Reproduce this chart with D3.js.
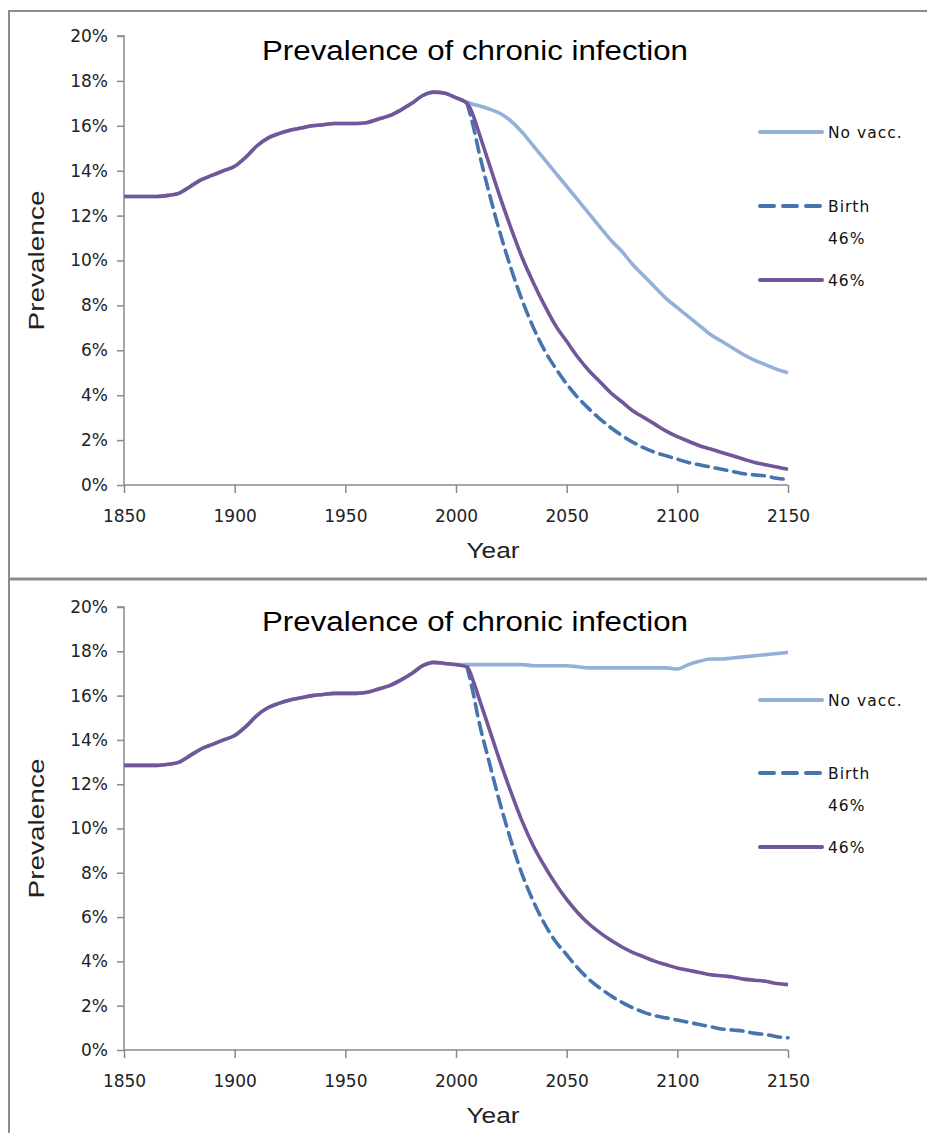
<!DOCTYPE html>
<html>
<head>
<meta charset="utf-8">
<script src="https://cdn.jsdelivr.net/npm/d3@7"></script>
<style>
  html, body { margin: 0; padding: 0; background: #fff; }
  svg { display: block; }
</style>
</head>
<body>
<svg id="chart" width="927" height="1133"></svg>
<script>
// ---------- DATA ----------
const titleText = "Prevalence of chronic infection";
const xLabel = "Year";
const yLabel = "Prevalence";
const seriesNames = ["No vacc.", "Birth\n46%", "46%"];
const xTicks = [1850, 1900, 1950, 2000, 2050, 2100, 2150];
const yTicks = [0, 2, 4, 6, 8, 10, 12, 14, 16, 18, 20];

// shared history (both panels)
const histYears = [1850,1855,1860,1865,1870,1875,1880,1885,1890,1895,1900,1905,1910,1915,1920,1925,1930,1935,1940,1945,1950,1955,1960,1965,1970,1975,1980,1985,1990,1995,2000];
const histTop   = [12.85,12.85,12.85,12.85,12.9,13.0,13.3,13.6,13.8,14.0,14.2,14.6,15.1,15.45,15.65,15.8,15.9,16.0,16.05,16.1,16.1,16.1,16.15,16.3,16.45,16.7,17.0,17.35,17.5,17.45,17.25];
const histBot   = [12.85,12.85,12.85,12.85,12.9,13.0,13.3,13.6,13.8,14.0,14.2,14.6,15.1,15.45,15.65,15.8,15.9,16.0,16.05,16.1,16.1,16.1,16.15,16.3,16.45,16.7,17.0,17.35,17.5,17.45,17.4];

// projections
const futureYears = [2005,2008,2010,2015,2020,2025,2030,2035,2040,2045,2050,2055,2060,2065,2070,2075,2080,2085,2090,2095,2100,2105,2110,2115,2120,2125,2130,2135,2140,2145,2150];

// top panel
const topNoVacc = [17.05,16.95,16.9,16.75,16.55,16.2,15.7,15.1,14.5,13.9,13.3,12.7,12.1,11.5,10.9,10.4,9.8,9.3,8.8,8.3,7.9,7.5,7.1,6.7,6.4,6.1,5.8,5.55,5.35,5.15,5.0];
const topBirth  = [17.0,15.9,15.0,13.0,11.2,9.6,8.2,7.0,6.0,5.2,4.5,3.9,3.4,2.95,2.55,2.2,1.9,1.65,1.45,1.3,1.15,1.0,0.9,0.8,0.7,0.6,0.5,0.45,0.4,0.3,0.25];
const top46     = [17.0,16.4,15.8,14.3,12.8,11.4,10.1,9.0,8.0,7.1,6.4,5.7,5.1,4.6,4.1,3.7,3.3,3.0,2.7,2.4,2.15,1.95,1.75,1.6,1.45,1.3,1.15,1.0,0.9,0.8,0.7];

// bottom panel
const botNoVacc = [17.4,17.4,17.4,17.4,17.4,17.4,17.4,17.35,17.35,17.35,17.35,17.3,17.25,17.25,17.25,17.25,17.25,17.25,17.25,17.25,17.2,17.4,17.55,17.65,17.65,17.7,17.75,17.8,17.85,17.9,17.95];
const botBirth  = [17.3,16.0,15.0,13.0,11.1,9.4,7.9,6.7,5.7,4.9,4.3,3.7,3.2,2.8,2.45,2.15,1.9,1.7,1.55,1.45,1.35,1.25,1.15,1.05,0.95,0.9,0.85,0.75,0.7,0.6,0.55];
const bot46     = [17.3,16.6,16.0,14.5,13.0,11.6,10.3,9.2,8.3,7.5,6.8,6.2,5.7,5.3,4.95,4.65,4.4,4.2,4.0,3.85,3.7,3.6,3.5,3.4,3.35,3.3,3.2,3.15,3.1,3.0,2.95];

// ---------- STYLE ----------
const colNoVacc = "#94b0d8";
const colBirth  = "#4574ae";
const col46     = "#71569a";
const axisCol   = "#8a8a8a";
const frameCol  = "#8c8c8c";
const tickFont  = "DejaVu Sans, Verdana, sans-serif";
const titleFont = "Liberation Sans Narrow, Liberation Sans, Arial, sans-serif";

const svg = d3.select("#chart");

// frames
svg.append("line").attr("x1", 9).attr("x2", 927).attr("y1", 11).attr("y2", 11).attr("stroke", frameCol).attr("stroke-width", 2);
svg.append("line").attr("x1", 9).attr("x2", 9).attr("y1", 10).attr("y2", 1133).attr("stroke", frameCol).attr("stroke-width", 2);
svg.append("line").attr("x1", 9).attr("x2", 927).attr("y1", 579).attr("y2", 579).attr("stroke", frameCol).attr("stroke-width", 3);

function zip(xs, ys) { return xs.map((x, i) => ({ x: x, y: ys[i] })); }

function panel(cfg) {
  const x = d3.scaleLinear().domain([1850, 2150]).range([124, 788]);
  const y = d3.scaleLinear().domain([0, 20]).range([cfg.bottom, cfg.top]);
  const g = svg.append("g");

  // y axis
  const yAx = g.append("g").attr("transform", "translate(124,0)")
    .call(d3.axisLeft(y).tickValues(yTicks).tickSize(7).tickPadding(9).tickFormat(d => d + "%"));
  yAx.select(".domain").attr("stroke", axisCol).attr("stroke-width", 1.5).attr("d", `M-7,${cfg.top}H0V${cfg.bottom}`);
  yAx.selectAll(".tick line").attr("stroke", axisCol).attr("stroke-width", 1.5);
  yAx.selectAll("text").attr("font-family", tickFont).attr("font-size", 17).attr("fill", "#222");

  // x axis
  const xAx = g.append("g").attr("transform", `translate(0,${cfg.bottom})`)
    .call(d3.axisBottom(x).tickValues(xTicks).tickSize(8).tickPadding(17).tickFormat(d3.format("d")));
  xAx.select(".domain").attr("stroke", axisCol).attr("stroke-width", 1.5).attr("d", `M124,0H788`);
  xAx.selectAll(".tick line").attr("stroke", axisCol).attr("stroke-width", 1.5);
  xAx.selectAll("text").attr("font-family", tickFont).attr("font-size", 17).attr("fill", "#222");

  // title
  g.append("text").attr("x", 475).attr("y", cfg.top + 24)
    .attr("text-anchor", "middle").attr("font-family", titleFont).attr("font-size", 27)
    .attr("textLength", 426).attr("lengthAdjust", "spacingAndGlyphs")
    .attr("fill", "#000").text(titleText);

  // axis labels
  g.append("text").attr("x", 493).attr("y", cfg.bottom + 73)
    .attr("text-anchor", "middle").attr("font-family", titleFont).attr("font-size", 22)
    .attr("textLength", 53).attr("lengthAdjust", "spacingAndGlyphs")
    .attr("fill", "#222").text(xLabel);
  const ymid = (cfg.top + cfg.bottom) / 2;
  g.append("text").attr("transform", `translate(44,${ymid}) rotate(-90)`)
    .attr("text-anchor", "middle").attr("font-family", titleFont).attr("font-size", 22)
    .attr("textLength", 140).attr("lengthAdjust", "spacingAndGlyphs")
    .attr("fill", "#222").text(yLabel);

  const line = d3.line().x(d => x(d.x)).y(d => y(d.y)).curve(d3.curveMonotoneX);

  const noVaccData = zip(histYears.concat(futureYears), cfg.hist.concat(cfg.noVacc));
  const birthData = zip(futureYears, cfg.birth);
  const p46Data = zip(histYears.concat(futureYears), cfg.hist.concat(cfg.p46));

  g.append("path").datum(noVaccData).attr("d", line).attr("fill", "none")
    .attr("stroke", colNoVacc).attr("stroke-width", 3.6).attr("stroke-linejoin", "round");
  g.append("path").datum(birthData).attr("d", line).attr("fill", "none")
    .attr("stroke", colBirth).attr("stroke-width", 3.6).attr("stroke-dasharray", "12,7").attr("stroke-linecap", "round");
  g.append("path").datum(p46Data).attr("d", line).attr("fill", "none")
    .attr("stroke", col46).attr("stroke-width", 3.6).attr("stroke-linejoin", "round");

  // legend
  const leg = g.append("g");
  const items = [
    { name: seriesNames[0], color: colNoVacc, dash: null, y: cfg.leg[0] },
    { name: seriesNames[1], color: colBirth, dash: "14,9", y: cfg.leg[1] },
    { name: seriesNames[2], color: col46, dash: null, y: cfg.leg[2] }
  ];
  items.forEach(it => {
    leg.append("line").attr("x1", 760).attr("x2", 822).attr("y1", it.y).attr("y2", it.y)
      .attr("stroke", it.color).attr("stroke-width", 4).attr("stroke-linecap", "round")
      .attr("stroke-dasharray", it.dash);
    const parts = it.name.split("\n");
    parts.forEach((p, i) => {
      leg.append("text").attr("x", 828).attr("y", it.y + 6 + i * 32)
        .attr("font-family", tickFont).attr("font-size", 15.5).attr("letter-spacing", 1)
        .attr("fill", "#111").text(p);
    });
  });
}

panel({ top: 36, bottom: 485, hist: histTop, noVacc: topNoVacc, birth: topBirth, p46: top46, leg: [132, 206, 280] });
panel({ top: 607, bottom: 1050, hist: histBot, noVacc: botNoVacc, birth: botBirth, p46: bot46, leg: [700, 773, 847] });
</script>
</body>
</html>
